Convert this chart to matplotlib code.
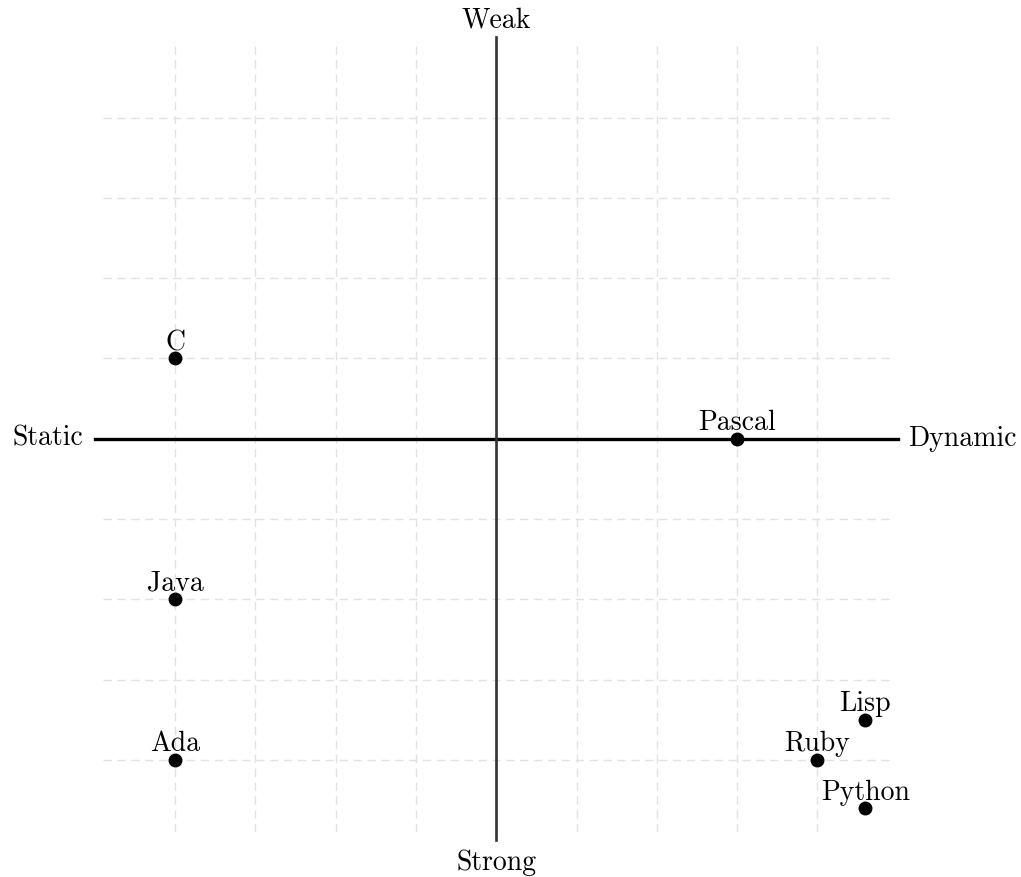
import matplotlib
matplotlib.use('Agg')
import matplotlib.pyplot as plt

plt.rcParams['font.family'] = ['cmr10', 'DejaVu Serif']
plt.rcParams['axes.formatter.use_mathtext'] = True

# languages placed on the static/dynamic (x) vs strong/weak (y) plane
languages = ['C', 'Java', 'Ada', 'Pascal', 'Ruby', 'Lisp', 'Python']
x_vals = [-4, -4, -4, 3, 4, 4.6, 4.6]
y_vals = [1, -2, -4, 0, -4, -3.5, -4.6]

ticks = [-4, -3, -2, -1, 0, 1, 2, 3, 4]

fig = plt.figure(figsize=(10.21, 8.77), dpi=100)
ax = fig.add_axes([103 / 1021, 45 / 877, 786.5 / 1021, 786.5 / 877])
ax.set_xlim(-4.9, 4.9)
ax.set_ylim(-4.9, 4.9)

ax.set_xticks(ticks)
ax.set_yticks(ticks)
ax.grid(True, color='#e2e2e2', linestyle=(0, (6, 4)), linewidth=1)
ax.tick_params(length=0, labelbottom=False, labelleft=False)
for s in ax.spines.values():
    s.set_visible(False)

# quadrant axes
ax.plot([-5, 5], [0, 0], color='black', linewidth=2.4, clip_on=False, zorder=2)
ax.plot([0, 0], [-5, 5], color='#333333', linewidth=1.9, clip_on=False, zorder=2)

fs = 20
ax.text(0, 5.12, 'Weak', ha='center', va='baseline', fontsize=fs)
ax.text(0, -5.12, 'Strong', ha='center', va='top', fontsize=fs)
ax.text(-5.14, 0, 'Static', ha='right', va='center', fontsize=fs)
ax.text(5.13, 0, 'Dynamic', ha='left', va='center', fontsize=fs)

ax.plot(x_vals, y_vals, 'o', color='black', markersize=9, zorder=3, clip_on=False)
for name, x, y in zip(languages, x_vals, y_vals):
    ax.annotate(name, (x, y), xytext=(0, 6), textcoords='offset points',
                ha='center', va='baseline', fontsize=fs)

fig.savefig('out.png', dpi=100)
